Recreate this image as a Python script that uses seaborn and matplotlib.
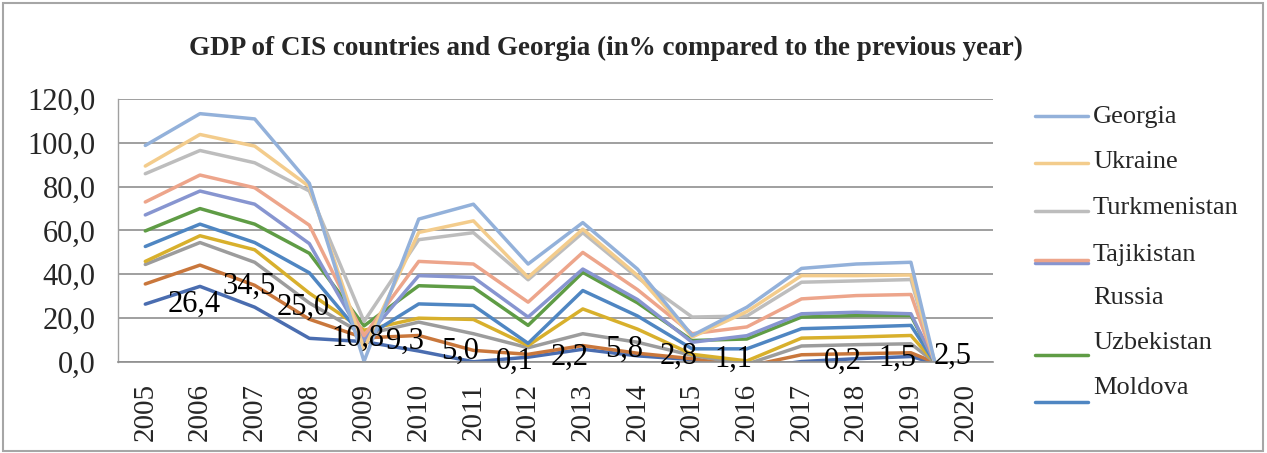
import numpy as np
import pandas as pd
import seaborn as sns
import matplotlib.pyplot as plt
from matplotlib.lines import Line2D
from matplotlib.patches import Rectangle

years = [str(y) for y in range(2005, 2021)]

# GDP growth, % to previous year; series are stacked bottom -> top in this order
azerbaijan = [26.4, 34.5, 25.0, 10.8, 9.3, 5.0, 0.1, 2.2, 5.8, 2.8, 1.1, -3.1, 0.2, 1.5, 2.5, -4.3]
belarus = [9.2, 9.7, 10.0, 8.7, 1.7, 7.1, 5.2, 1.3, 1.7, 1.2, 0.4, 1.1, 3.1, 2.3, 1.7, -1.7]
kazakhstan = [8.9, 10.3, 10.5, 7.4, 1.5, 6.1, 7.6, 3.0, 5.4, 5.0, 1.5, 1.0, 4.0, 4.1, 4.1, -5.0]
kyrgyzstan = [1.4, 3.1, 5.7, 4.5, 2.0, 1.8, 6.5, 1.0, 11.3, 6.0, 0.5, 1.5, 3.6, 3.5, 3.8, -5.0]
moldova = [6.8, 5.3, 3.3, 9.3, -3.5, 6.5, 6.4, 1.0, 8.4, 6.0, 2.5, 5.5, 4.3, 4.5, 4.6, -6.0]
uzbekistan = [7.1, 7.1, 8.4, 8.9, 5.5, 8.3, 8.2, 8.2, 8.3, 6.0, 3.8, 4.5, 5.3, 5.3, 4.5, -5.0]
russia = [7.3, 8.0, 9.1, 4.4, -6.5, 4.6, 4.6, 3.8, 1.5, 1.5, -0.8, 1.5, 1.5, 1.5, 0.8, -2.0]
tajikistan = [5.9, 7.3, 7.5, 8.4, 2.0, 6.5, 6.1, 6.8, 7.6, 4.5, 3.9, 4.0, 6.8, 7.6, 8.8, -11.0]
turkmenistan = [12.9, 11.2, 11.4, 15.6, 6.5, 9.9, 14.3, 10.2, 9.0, 5.5, 7.6, 5.0, 7.6, 6.7, 6.8, -9.0]
ukraine = [3.5, 7.3, 7.6, 2.0, -12.5, 3.3, 5.4, 1.1, 1.6, 1.0, -9.1, 2.0, 3.0, 2.4, 2.1, -3.0]
georgia = [9.4, 9.5, 12.4, 1.5, -5.7, 6.1, 7.6, 6.1, 3.0, 2.9, 0.7, 2.0, 3.3, 5.3, 5.8, -7.0]

countries = ["Azerbaijan", "Belarus", "Kazakhstan", "Kyrgyzstan", "Moldova", "Uzbekistan",
             "Russia", "Tajikistan", "Turkmenistan", "Ukraine", "Georgia"]
series = [azerbaijan, belarus, kazakhstan, kyrgyzstan, moldova, uzbekistan,
          russia, tajikistan, turkmenistan, ukraine, georgia]
colors = ["#4a6db0", "#c9773c", "#9c9c9c", "#d8b02c", "#4f86c2", "#5f9c45",
          "#8795d0", "#eda58b", "#bdbdbd", "#f3cc8c", "#93b1da"]
legend_names = ["Georgia", "Ukraine", "Turkmenistan", "Tajikistan", "Russia", "Uzbekistan", "Moldova"]

# stacked line: each series sits on the sum of the ones below
levels = np.cumsum(np.array(series), axis=0)
rows = []
for name, lev in zip(countries, levels):
    for i, v in enumerate(lev):
        rows.append({"pos": i, "level": v, "country": name})
df = pd.DataFrame(rows)

sns.set_style("white")
plt.rcParams["font.family"] = ["Liberation Serif", "DejaVu Serif"]

fig = plt.figure(figsize=(12.67, 4.53), dpi=100)
ax = fig.add_axes([0.0931, 0.2009, 0.7837 - 0.0931, 0.7815 - 0.2009])

sns.lineplot(data=df, x="pos", y="level", hue="country", hue_order=countries,
             palette=dict(zip(countries, colors)), linewidth=2.5, legend=False, ax=ax)

# data labels of the bottom series
for i, v in enumerate(azerbaijan):
    if v >= 0:
        ax.annotate(f"{v:.1f}".replace(".", ","), (i, v), xytext=(16, 0),
                    textcoords="offset points", ha="left", va="center",
                    fontsize=22, color="black")

ax.set_xlim(-0.5, 15.5)
ax.set_ylim(0, 120)
ax.set_yticks(range(0, 121, 20))
ax.set_yticklabels([f"{t:.1f}".replace(".", ",") for t in range(0, 121, 20)], fontsize=22)
ax.set_xticks(range(len(years)))
ax.set_xticklabels(years, rotation=90, fontsize=21)
ax.tick_params(axis="y", length=0, pad=16)
ax.tick_params(axis="x", length=0, pad=15)
ax.set_xlabel("")
ax.set_ylabel("")
ax.grid(axis="y", color="#8f8f8f", linewidth=1.2)
ax.grid(axis="x", visible=False)
for side in ["top", "right"]:
    ax.spines[side].set_visible(False)
ax.spines["left"].set_color("#a0a0a0")
ax.spines["bottom"].set_color("#8f8f8f")
ax.spines["left"].set_linewidth(1.0)
ax.spines["bottom"].set_linewidth(1.2)

fig.text(0.478, 1 - 48 / 453, "GDP of CIS countries and Georgia (in% compared to the previous year)",
         ha="center", va="center", fontsize=19.5, fontweight="bold")

# legend (Excel-style, entries beyond Moldova cut off)
W, H = 1267, 453
col = dict(zip(countries, colors))
text_y = [117, 162, 208, 255, 298, 343, 388]
handle_y = {"Georgia": 116, "Ukraine": 163, "Turkmenistan": 211, "Tajikistan": 260,
            "Russia": 263, "Uzbekistan": 355, "Moldova": 402}
for name in ["Russia", "Georgia", "Ukraine", "Turkmenistan", "Tajikistan", "Uzbekistan", "Moldova"]:
    hy = 1 - handle_y[name] / H
    fig.add_artist(Line2D([1035 / W, 1088 / W], [hy, hy], color=col[name], linewidth=2.5))
for name, ty in zip(legend_names, text_y):
    fig.text(1093 / W, 1 - ty / H, name, ha="left", va="center", fontsize=19)

fig.add_artist(Rectangle((0.002, 0.004), 0.995, 0.99, transform=fig.transFigure,
                         fill=False, edgecolor="#a6a6a6", linewidth=1.5))

fig.savefig("out.png", dpi=100)
